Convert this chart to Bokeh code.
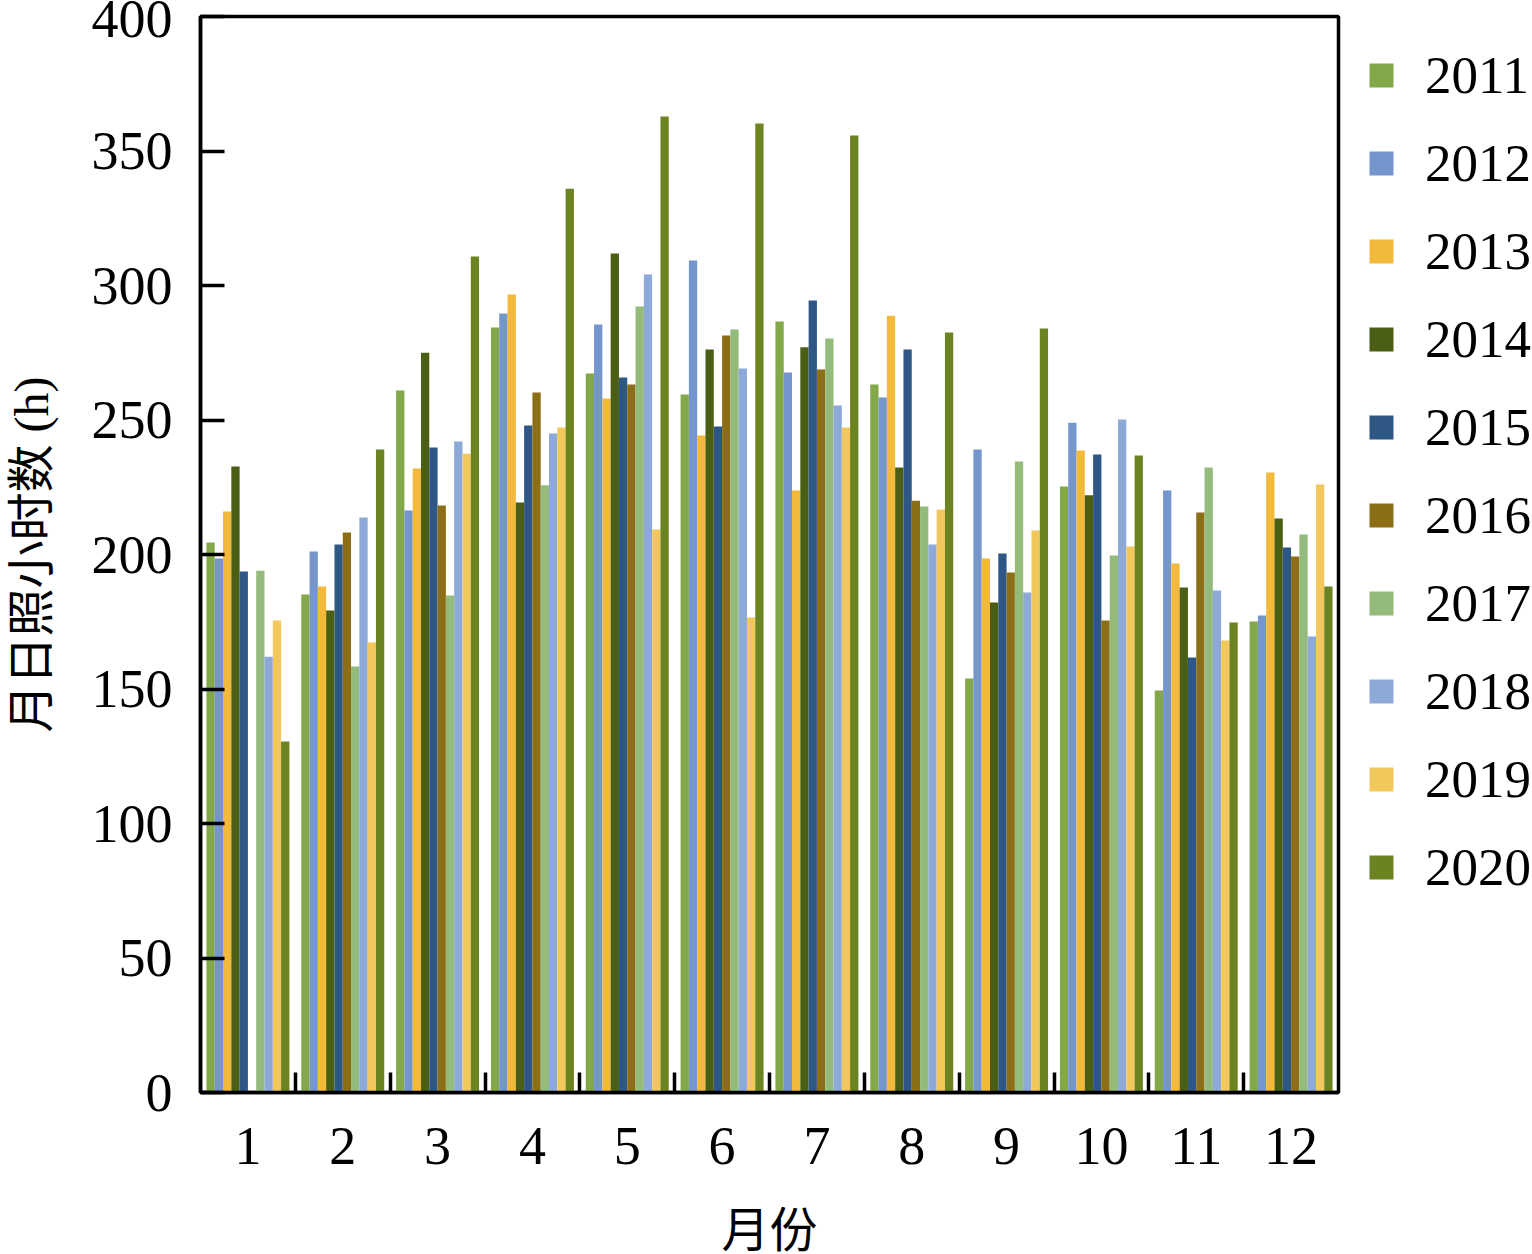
import numpy as np
from bokeh.plotting import figure
from bokeh.models import (ColumnDataSource, Range1d, FixedTicker, Legend, LegendItem)
from bokeh.transform import dodge
from bokeh.embed import file_html
from bokeh.resources import INLINE

months = list(range(1, 13))
month_labels = [str(m) for m in months]
years = ["2011", "2012", "2013", "2014", "2015", "2016", "2017", "2018", "2019", "2020"]

v2011 = [204.5, 185.1, 261.0, 284.4, 267.3, 259.5, 286.6, 263.2, 153.9, 225.3, 149.4, 175.1]
v2012 = [198.5, 201.1, 216.4, 289.6, 285.5, 309.3, 267.7, 258.4, 239.0, 249.0, 223.8, 177.3]
v2013 = [216.0, 188.1, 232.0, 296.7, 258.0, 244.2, 223.8, 288.8, 198.5, 238.7, 196.7, 230.5]
v2014 = [232.7, 179.2, 275.0, 219.3, 311.9, 276.2, 277.0, 232.3, 182.2, 222.0, 187.7, 213.4]
v2015 = [193.7, 203.7, 239.8, 248.0, 265.8, 247.6, 294.4, 276.2, 200.4, 237.2, 161.7, 202.6]
v2016 = [np.nan, 208.2, 218.2, 260.2, 263.2, 281.4, 268.8, 220.0, 193.3, 175.5, 215.6, 199.3]
v2017 = [194.0, 158.4, 184.8, 225.7, 292.2, 283.6, 280.3, 217.8, 234.6, 199.6, 232.3, 207.4]
v2018 = [162.0, 213.8, 242.0, 245.0, 304.1, 269.1, 255.4, 203.7, 185.9, 250.2, 186.6, 169.5]
v2019 = [175.5, 167.3, 237.5, 247.2, 209.3, 176.6, 247.2, 216.7, 208.9, 203.0, 168.0, 226.0]
v2020 = [130.5, 239.0, 310.8, 336.0, 362.8, 360.2, 355.8, 282.5, 284.0, 236.8, 174.7, 188.1]

series = [v2011, v2012, v2013, v2014, v2015, v2016, v2017, v2018, v2019, v2020]
colors = ["#82A84A", "#7596CD", "#F2B93A", "#4B5F14", "#2F5786",
          "#8B6E15", "#94BB7C", "#8CA9D8", "#F2C75C", "#6B8320"]

y_ticks = [0, 50, 100, 150, 200, 250, 300, 350, 400]

data = {"month": months}
for y, vals in zip(years, series):
    data["y" + y] = np.array(vals, dtype=float)
source = ColumnDataSource(data)

SERIF = "'Liberation Serif', 'Noto Sans CJK SC'"

p = figure(frame_width=1138, frame_height=1076,
           x_range=Range1d(0.5, 12.5), y_range=Range1d(0, 400),
           output_backend="svg", toolbar_location=None,
           min_border_left=200, min_border_right=194,
           min_border_top=16, min_border_bottom=153)

p.xgrid.visible = False
p.ygrid.visible = False
p.outline_line_color = "black"
p.outline_line_width = 3.5
p.background_fill_color = "white"
p.border_fill_color = "white"

group_w = 0.875
bar_w = group_w / len(years)
renderers = []
for j, (y, c) in enumerate(zip(years, colors)):
    off = -group_w / 2 + bar_w * (j + 0.5)
    r = p.vbar(x=dodge("month", off, range=p.x_range), top="y" + y, bottom=0,
               width=bar_w, source=source, fill_color=c, line_color=None)
    renderers.append(r)

# x axis
xa = p.xaxis[0]
xa.ticker = FixedTicker(ticks=months, minor_ticks=[m + 0.5 for m in months[:-1]])
xa.major_label_overrides = {m: lab for m, lab in zip(months, month_labels)}
xa.major_tick_line_color = None
xa.minor_tick_in = 20
xa.minor_tick_out = 0
xa.minor_tick_line_width = 3.5
xa.minor_tick_line_color = "black"
xa.axis_line_width = 3.5
xa.major_label_text_font = SERIF
xa.major_label_text_font_size = "54px"
xa.major_label_text_color = "black"
xa.major_label_standoff = 29
xa.axis_label = "月份"
xa.axis_label_text_font = SERIF
xa.axis_label_text_font_size = "48px"
xa.axis_label_text_font_style = "normal"
xa.axis_label_text_color = "black"
xa.axis_label_standoff = 37

# y axis
ya = p.yaxis[0]
ya.ticker = FixedTicker(ticks=y_ticks)
ya.major_tick_in = 24
ya.major_tick_out = 0
ya.major_tick_line_width = 3.5
ya.minor_tick_line_color = None
ya.axis_line_width = 3.5
ya.major_label_text_font = SERIF
ya.major_label_text_font_size = "54px"
ya.major_label_text_color = "black"
ya.major_label_standoff = 28
ya.axis_label = "月日照小时数 (h)"
ya.axis_label_text_font = SERIF
ya.axis_label_text_font_size = "48px"
ya.axis_label_text_font_style = "normal"
ya.axis_label_text_color = "black"
ya.axis_label_standoff = 31

items = [LegendItem(label=y, renderers=[r]) for y, r in zip(years, renderers)]
legend = Legend(items=items, location=(28, 195), margin=0, padding=0,
                glyph_width=30, glyph_height=30, label_height=60,
                spacing=28, label_standoff=29,
                label_text_font=SERIF, label_text_font_size="53px",
                label_text_color="black",
                border_line_color=None, background_fill_alpha=0)
p.add_layout(legend, "right")

open("out.html", "w").write(file_html(p, INLINE))
